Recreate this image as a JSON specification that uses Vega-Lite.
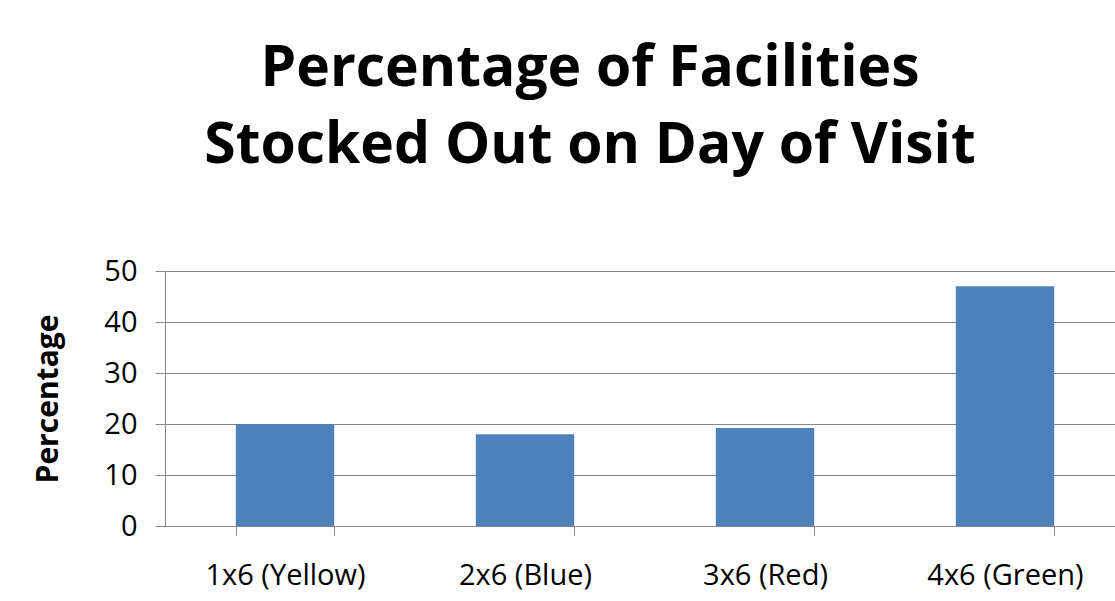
{
  "$schema": "https://vega.github.io/schema/vega-lite/v6.json",
  "width": 960,
  "height": 255,
  "autosize": {"type": "none"},
  "padding": {"left": 165, "top": 271, "right": 0, "bottom": 75},
  "background": "white",
  "title": {
    "text": ["Percentage of Facilities", "Stocked Out on Day of Visit"],
    "fontSize": 57,
    "font": "Open Sans",
    "fontWeight": "bold",
    "color": "#000000",
    "anchor": "middle",
    "dx": -55,
    "lineHeight": 77,
    "offset": 82
  },
  "data": {
    "values": [
      {"group": "1x6 (Yellow)", "pct": 20.0},
      {"group": "2x6 (Blue)", "pct": 18.0},
      {"group": "3x6 (Red)", "pct": 19.2},
      {"group": "4x6 (Green)", "pct": 47.0}
    ]
  },
  "mark": {"type": "bar", "color": "#4F81BD"},
  "encoding": {
    "x": {
      "field": "group",
      "type": "nominal",
      "sort": null,
      "scale": {"paddingInner": 0.59, "paddingOuter": 0.295},
      "axis": {
        "title": null,
        "labelAngle": 0,
        "labelFont": "Open Sans",
        "labelFontSize": 29,
        "labelColor": "#000000",
        "labelPadding": 26,
        "tickBand": "extent",
        "tickSize": 9,
        "tickColor": "#888888",
        "domainColor": "#888888",
        "grid": false
      }
    },
    "y": {
      "field": "pct",
      "type": "quantitative",
      "scale": {"domain": [0, 50]},
      "axis": {
        "title": "Percentage",
        "titleFont": "Open Sans",
        "titleFontSize": 30,
        "titleFontWeight": "bold",
        "titleColor": "#000000",
        "titlePadding": 40,
        "values": [0, 10, 20, 30, 40, 50],
        "labelFont": "Open Sans",
        "labelFontSize": 29,
        "labelColor": "#000000",
        "labelPadding": 18,
        "tickSize": 10,
        "tickColor": "#888888",
        "domainColor": "#888888",
        "gridColor": "#888888"
      }
    }
  },
  "config": {"view": {"stroke": null}}
}
